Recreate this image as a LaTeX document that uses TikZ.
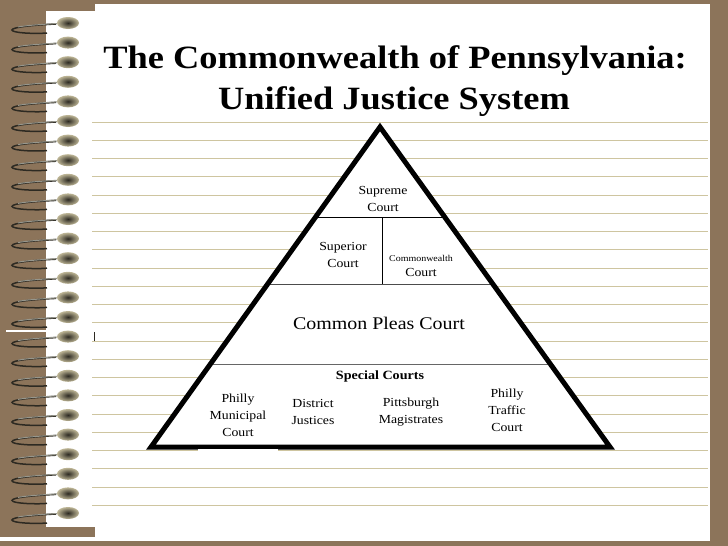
\documentclass[tikz,border=0pt]{standalone}
\usepackage{fontspec}
\setmainfont{Liberation Serif}[FakeStretch=1.12]
\usepackage{tikz}
\usetikzlibrary{shapes,calc,positioning}
\definecolor{binder}{RGB}{140,116,90}
\definecolor{rulecol}{RGB}{206,197,160}
\definecolor{ringdark}{RGB}{45,42,34}
\definecolor{ringlight}{RGB}{150,150,140}
\definecolor{beadrim}{RGB}{190,182,150}
\tikzstyle{ruled} = [rulecol, line width=1pt]
\tikzstyle{wire} = [ringdark, line width=1.5pt]
\tikzstyle{wirehi} = [ringlight, line width=1pt]
\tikzstyle{bead} = [ellipse, minimum width=22pt, minimum height=12pt, inner sep=0pt, shading=radial, inner color=ringdark, outer color=beadrim]
\tikzstyle{divider} = [line width=0.9pt]
\tikzstyle{court} = [align=center, inner sep=0pt, font=\fontsize{12.3}{17}\selectfont]
\tikzstyle{title} = [anchor=base, inner sep=0pt, font=\fontsize{32.5}{40}\selectfont\bfseries]

\begin{document}
\begin{tikzpicture}[x=1pt,y=-1pt]
% binder and page
\fill[binder] (0,0) rectangle (728,546);
\fill[white] (95,4) rectangle (710,541);
\fill[white] (46,11) rectangle (95,527);
\fill[white] (0,537) rectangle (95,541);
\fill[white] (6,330) rectangle (48,332);
\draw[ringdark, line width=1pt] (94,332) -- (94,342);
% ruled lines
\foreach \k in {0,...,21}
  \draw[ruled] (92,{122+18.25*\k}) -- (708,{122+18.25*\k});
% spiral rings
\foreach \k in {0,...,25} {
  \begin{scope}[shift={(0,{23+19.6*\k})}]
    \draw[wire] (56,1) .. controls (35,2) and (12,4) .. (12,7)
      .. controls (12,10) and (35,11) .. (47,10);
    \draw[wirehi] (57,0.5) .. controls (40,1.5) and (25,2.5) .. (18,4);
    \node[bead] (bead\k) at (68,0) {};
  \end{scope}
}
% title
\node[title] (title1) at (395,68) {The Commonwealth of Pennsylvania:};
\node[title] (title2) at (394,109) {Unified Justice System};
% pyramid
\coordinate (top) at (380,127);
\coordinate (bl) at (151,447);
\coordinate (br) at (610,447);
\fill[white] (top) -- (bl) -- (br) -- cycle;
\draw[divider] ($(top)!0.284!(bl)$) -- ($(top)!0.284!(br)$);
\draw[divider] (382,218) -- (382,284);
\draw[divider, black!70] ($(top)!0.491!(bl)$) -- ($(top)!0.491!(br)$);
\draw[divider, black!60] ($(top)!0.7406!(bl)$) -- ($(top)!0.7406!(br)$);
\draw[line width=5pt, line join=miter, miter limit=10] (top) -- (bl) -- (br) -- cycle;
\fill[white] (198,448.8) rectangle (278,451);
% courts
\node[court] (supreme) at (383,199) {Supreme\\Court};
\node[court] (superior) at (343,255) {Superior\\Court};
\node[court] (cwealth) at (421,266) {{\fontsize{8.9}{11}\selectfont Commonwealth}\\[-2pt]Court};
\node[court, font=\fontsize{17.8}{20}\selectfont] (pleas) at (379,323) {Common Pleas Court};
\node[court, font=\fontsize{12.6}{17}\selectfont\bfseries] (special) at (380,376) {Special Courts};
\node[court] (municipal) at (238,415) {Philly\\Municipal\\Court};
\node[court] (district) at (313,412) {District\\Justices};
\node[court] (pitt) at (411,412) {Pittsburgh\\Magistrates};
\node[court] (traffic) at (507,410) {Philly\\Traffic\\Court};
\end{tikzpicture}
\end{document}
